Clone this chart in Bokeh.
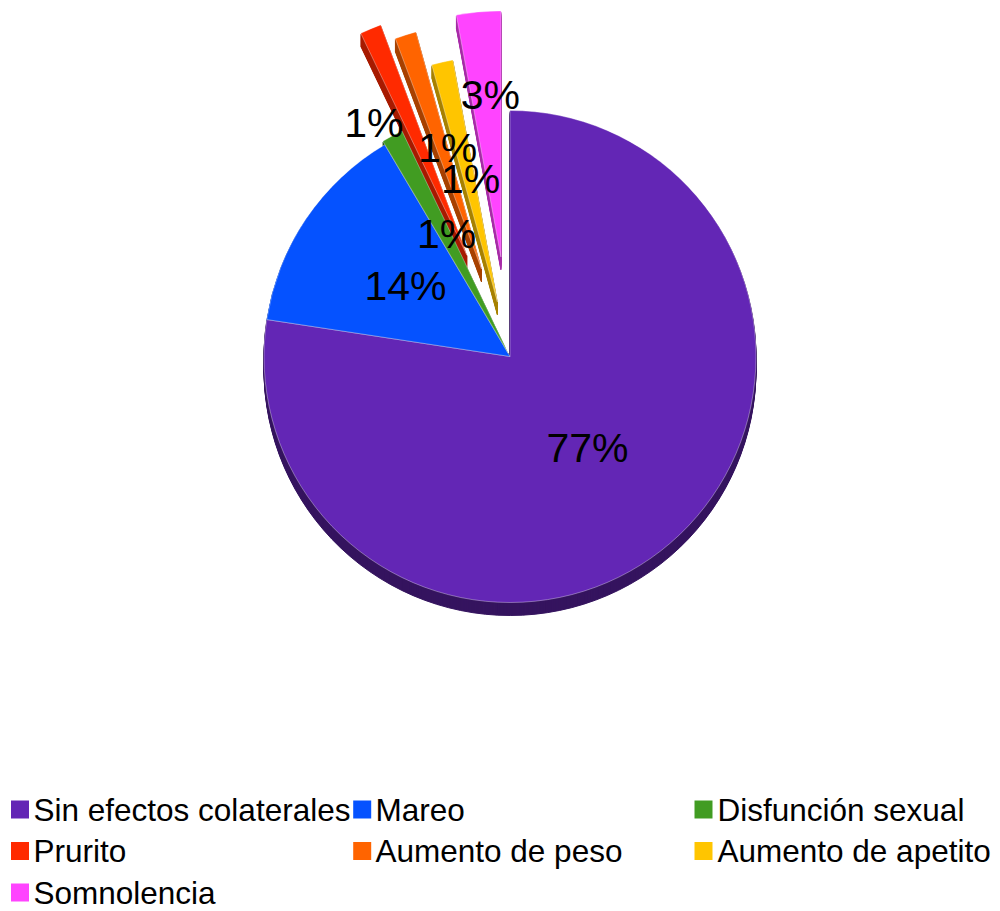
import math
from bokeh.plotting import figure
from bokeh.models import Range1d, ColumnDataSource
from bokeh.core.properties import value
from bokeh.embed import file_html
from bokeh.resources import INLINE

# ---------------- data ----------------
categories = ["Sin efectos colaterales", "Mareo", "Disfunción sexual", "Prurito",
              "Aumento de peso", "Aumento de apetito", "Somnolencia"]
shares = [77.4, 14.1, 1.4, 1.4, 1.4, 1.4, 2.9]
pct_labels = [f"{round(s)}%" for s in shares]

# ---------------- style ----------------
colors = ["#6326B5", "#0552FF", "#419C22", "#FF2A00", "#FF6400", "#FFC500", "#FF44FF"]
side_colors = ["#35145F", "#03308F", "#24581A", "#A81C00", "#A84200", "#A88200", "#A82DA8"]
explode = [0, 0, 4, 110, 92, 56, 100]
# label placement (distance from pie centre, angle in degrees)
label_dist = [119.5, 126.3, 138.4, 270.7, 217.2, 182.3, 262.5]
label_ang = [-49.6, 145.8, 117.3, 120.2, 106.7, 102.5, 94.3]

W, H = 1000, 911
CX, CY = 509.5, H - 356.0
R = 246.0
DEPTH = 13
FONT = "Liberation Sans"

total = sum(shares)
starts, ends, mids = [], [], []
cum = 0.0
for s in shares:
    a_top = math.pi / 2 - 2 * math.pi * cum / total
    cum += s
    a_bot = math.pi / 2 - 2 * math.pi * cum / total
    starts.append(a_bot)
    ends.append(a_top)
    mids.append((a_bot + a_top) / 2)

xs = [CX + e * math.cos(m) for e, m in zip(explode, mids)]
ys = [CY + e * math.sin(m) for e, m in zip(explode, mids)]

p = figure(width=W, height=H, x_range=Range1d(0, W), y_range=Range1d(0, H),
           output_backend="svg", toolbar_location=None, min_border=0)
p.axis.visible = False
p.grid.visible = False
p.outline_line_color = None
p.background_fill_color = "white"
p.border_fill_color = "white"

# 3D side (extrusion)
side = dict(x=[], y=[], s=[], e=[], c=[])
for k in range(DEPTH, 0, -1):
    for i in range(len(shares)):
        side["x"].append(xs[i])
        side["y"].append(ys[i] - k)
        side["s"].append(starts[i])
        side["e"].append(ends[i])
        side["c"].append(side_colors[i])
p.wedge(x="x", y="y", radius=R, start_angle="s", end_angle="e", fill_color="c",
        line_color="c", line_width=1, source=ColumnDataSource(side))

# top faces
top = ColumnDataSource(dict(x=xs, y=ys, s=starts, e=ends, c=colors, cat=categories))
p.wedge(x="x", y="y", radius=R, start_angle="s", end_angle="e", fill_color="c",
        line_color="white", line_alpha=0.35, line_width=1, source=top)

# percentage labels
lx = [CX + d * math.cos(math.radians(a)) for d, a in zip(label_dist, label_ang)]
ly = [CY + d * math.sin(math.radians(a)) for d, a in zip(label_dist, label_ang)]
p.text(x=lx, y=ly, text=pct_labels, text_font=value(FONT), text_font_size="41px",
       text_align="center", text_baseline="middle", text_color="black")

# legend
sq_cx = [19.5, 361.7, 703.0]
txt_x = [33.0, 375.0, 717.0]
row_y = [809.0, 850.5, 892.0]
lg_sx, lg_sy, lg_tx = [], [], []
for i in range(len(categories)):
    r, c = divmod(i, 3)
    lg_sx.append(sq_cx[c])
    lg_sy.append(H - row_y[r])
    lg_tx.append(txt_x[c])
p.rect(x=lg_sx, y=lg_sy, width=18, height=18, fill_color=colors, line_color=None)
p.text(x=lg_tx, y=lg_sy, text=categories, text_font=value(FONT), text_font_size="31.5px",
       text_align="left", text_baseline="middle", text_color="black")

open("out.html", "w").write(file_html(p, INLINE))
